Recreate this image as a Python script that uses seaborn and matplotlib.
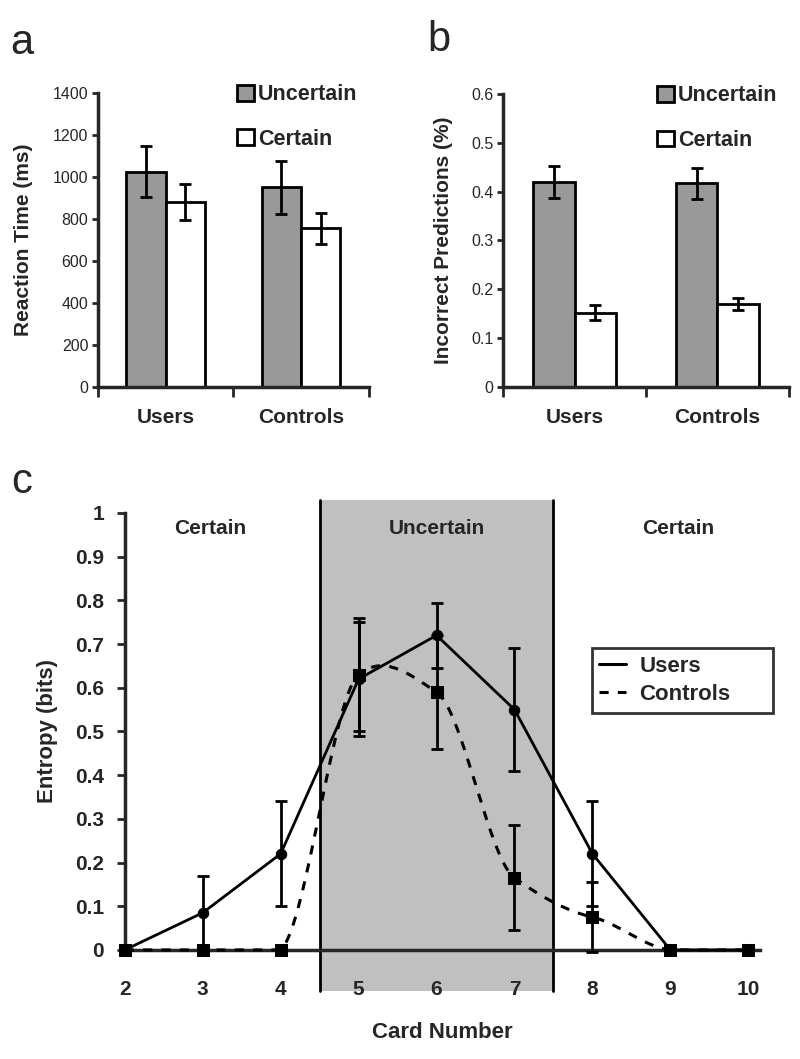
import numpy as np
import pandas as pd
import matplotlib
matplotlib.use("Agg")
import matplotlib.pyplot as plt
from matplotlib.lines import Line2D
import seaborn as sns

# Panel a / b data
groups = ["Users", "Controls"]
conditions = ["Uncertain", "Certain"]
rt_uncertain = [1025, 950]
rt_certain = [880, 755]
rt_uncertain_err = [122, 125]
rt_certain_err = [85, 75]
inc_uncertain = [0.420, 0.417]
inc_certain = [0.152, 0.170]
inc_uncertain_err = [0.032, 0.031]
inc_certain_err = [0.015, 0.012]
rt_ticks = [0, 200, 400, 600, 800, 1000, 1200, 1400]
inc_ticks = [0, 0.1, 0.2, 0.3, 0.4, 0.5, 0.6]
inc_ticklabels = ["0", "0.1", "0.2", "0.3", "0.4", "0.5", "0.6"]

# Panel c data
cards = [2, 3, 4, 5, 6, 7, 8, 9, 10]
users_entropy = [0, 0.085, 0.22, 0.62, 0.72, 0.55, 0.22, 0, 0]
users_err = [0, 0.085, 0.12, 0.13, 0.075, 0.14, 0.12, 0, 0]
controls_entropy = [0, 0, 0, 0.63, 0.59, 0.165, 0.075, 0, 0]
controls_err = [0, 0, 0, 0.13, 0.13, 0.12, 0.08, 0, 0]
entropy_ticks = [0, 0.1, 0.2, 0.3, 0.4, 0.5, 0.6, 0.7, 0.8, 0.9, 1]
entropy_ticklabels = ["0", "0.1", "0.2", "0.3", "0.4", "0.5", "0.6", "0.7", "0.8", "0.9", "1"]
uncertain_span = (4.5, 7.5)
region_labels = ["Certain", "Uncertain", "Certain"]

GRAY = "#999999"
SHADE = "#c0c0c0"

sns.set_style("ticks")
plt.rcParams["font.family"] = ["Liberation Sans", "DejaVu Sans"]
NARROW = ["Liberation Sans Narrow", "Liberation Sans", "DejaVu Sans"]


def smooth_curve(x, y, n=40, tension=0.25):
    # cardinal spline, similar to the spreadsheet "smoothed line" option
    x = np.asarray(x, float)
    y = np.asarray(y, float)
    m = np.zeros_like(y)
    m[1:-1] = (y[2:] - y[:-2]) / (x[2:] - x[:-2])
    m *= tension * 2
    xs, ys = [], []
    for i in range(len(x) - 1):
        h = x[i + 1] - x[i]
        t = np.linspace(0, 1, n)
        h00 = 2 * t**3 - 3 * t**2 + 1
        h10 = t**3 - 2 * t**2 + t
        h01 = -2 * t**3 + 3 * t**2
        h11 = t**3 - t**2
        xs.append(x[i] + t * h)
        ys.append(h00 * y[i] + h10 * h * m[i] + h01 * y[i + 1] + h11 * h * m[i + 1])
    return np.concatenate(xs), np.clip(np.concatenate(ys), 0, None)


def bar_panel(ax, unc, cer, unc_err, cer_err, ticks, ticklabels, ylabel, ymax, label_x, leg_x):
    df = pd.DataFrame({
        "group": groups * 2,
        "cond": [conditions[0]] * 2 + [conditions[1]] * 2,
        "value": list(unc) + list(cer),
    })
    errs = [list(unc_err), list(cer_err)]
    sns.barplot(data=df, x="group", y="value", hue="cond", hue_order=conditions,
                palette=[GRAY, "white"], saturation=1, width=0.58, errorbar=None,
                edgecolor="black", linewidth=2, ax=ax)
    for cont, err in zip(ax.containers, errs):
        for bar, e in zip(cont, err):
            ax.errorbar(bar.get_x() + bar.get_width() / 2, bar.get_height(), yerr=e,
                        fmt="none", ecolor="black", elinewidth=2, capsize=4, capthick=2)
    ax.set_xlim(-0.5, 1.5)
    ax.set_ylim(0, ymax)
    ax.set_yticks(ticks)
    ax.set_yticklabels(ticklabels, fontsize=11.5)
    # category ticks at the group boundaries
    ax.set_xticks([-0.5, 0.5, 1.5])
    ax.set_xticklabels([])
    ax.set_xticks([0, 1], minor=True)
    ax.set_xticklabels(groups, minor=True, fontsize=15, fontweight="bold")
    ax.tick_params(axis="x", which="major", length=7, width=2, direction="out")
    ax.tick_params(axis="x", which="minor", length=0, pad=15)
    ax.tick_params(axis="y", length=4, width=2, pad=3)
    ax.set_xlabel("")
    ax.set_ylabel(ylabel, fontsize=15, fontweight="bold")
    ax.yaxis.set_label_coords(label_x, 0.5)
    for s in ["left", "bottom"]:
        ax.spines[s].set_linewidth(2.5)
    sns.despine(ax=ax)
    handles, labels = ax.get_legend_handles_labels()
    for h in handles:
        h.set_edgecolor("black")
        h.set_linewidth(2)
    ax.legend(handles, labels, loc="upper left", bbox_to_anchor=(leg_x, 1.03),
              frameon=False, prop={"weight": "bold", "size": 15.5},
              handlelength=0.75, handleheight=0.75, handletextpad=0.2,
              labelspacing=1.1, borderpad=0, borderaxespad=0)


fig = plt.figure(figsize=(8, 10.59), dpi=100)

ax_a = fig.add_axes([0.1225, 0.6346, 0.3385, 0.2776])
bar_panel(ax_a, rt_uncertain, rt_certain, rt_uncertain_err, rt_certain_err,
          rt_ticks, [str(t) for t in rt_ticks], "Reaction Time (ms)", 1400, -0.24, 0.515)

ax_b = fig.add_axes([0.629, 0.6346, 0.357, 0.2766])
bar_panel(ax_b, inc_uncertain, inc_certain, inc_uncertain_err, inc_certain_err,
          inc_ticks, inc_ticklabels, "Incorrect Predictions (%)", 0.6, -0.175, 0.54)

# Panel c
ax_c = fig.add_axes([0.156, 0.103, 0.794, 0.4126])
ax_c.axvspan(*uncertain_span, ymin=-0.094, ymax=1.03, facecolor=SHADE, edgecolor="none",
             clip_on=False, zorder=0)
for xv in uncertain_span:
    ax_c.plot([xv, xv], [-0.094, 1.03], color="black", lw=2, clip_on=False, zorder=1)

sx, sy = smooth_curve(cards, controls_entropy)
ax_c.plot(sx, sy, color="black", lw=2.2, ls=(0, (3, 3)), zorder=3, clip_on=False)
sns.lineplot(x=cards, y=users_entropy, color="black", lw=2, ax=ax_c, zorder=4,
             marker="o", markersize=7.5, markeredgecolor="black", clip_on=False)
ax_c.errorbar(cards, users_entropy, yerr=users_err, fmt="none", ecolor="black",
              elinewidth=2, capsize=4, capthick=2, zorder=4, clip_on=False)
sns.scatterplot(x=cards, y=controls_entropy, marker="s", s=85, color="black",
                edgecolor="black", ax=ax_c, zorder=5, clip_on=False, legend=False)
ax_c.errorbar(cards, controls_entropy, yerr=controls_err, fmt="none", ecolor="black",
              elinewidth=2, capsize=4, capthick=2, zorder=5, clip_on=False)

for xt, txt in zip([3.1, 6.0, 9.1], region_labels):
    ax_c.text(xt, 0.965, txt, ha="center", va="center", fontsize=15,
              fontweight="bold", family=NARROW)

ax_c.set_xlim(2, 10.15)
ax_c.set_ylim(0, 1)
ax_c.set_xticks(cards)
ax_c.set_xticklabels([str(c) for c in cards], fontsize=15, fontweight="bold", family=NARROW)
ax_c.set_yticks(entropy_ticks)
ax_c.set_yticklabels(entropy_ticklabels, fontsize=15, fontweight="bold", family=NARROW)
ax_c.tick_params(axis="x", length=0, pad=22)
ax_c.tick_params(axis="y", length=6, width=2, pad=9)
for s in ["left", "bottom"]:
    ax_c.spines[s].set_linewidth(2.5)
sns.despine(ax=ax_c)
ax_c.set_xlabel("Card Number", fontsize=16, fontweight="bold", family=NARROW)
ax_c.xaxis.set_label_coords(0.5, -0.165)
ax_c.set_ylabel("Entropy (bits)", fontsize=16, fontweight="bold", family=NARROW)
ax_c.yaxis.set_label_coords(-0.105, 0.5)

leg_handles = [Line2D([], [], color="black", lw=2.2),
               Line2D([], [], color="black", lw=2.2, ls=(0, (3, 3)))]
leg = ax_c.legend(leg_handles, ["Users", "Controls"], loc="upper left",
                  bbox_to_anchor=(0.735, 0.5, 0.285, 0.19), mode="expand",
                  frameon=True, fancybox=False,
                  prop={"family": NARROW, "weight": "bold", "size": 16},
                  handlelength=1.2, handletextpad=0.6, labelspacing=0.3,
                  borderpad=0.35, borderaxespad=0, facecolor="white")
leg.get_frame().set_edgecolor("black")
leg.get_frame().set_linewidth(2)

# panel letters
fig.text(22 / 800, 1 - 43 / 1059, "a", fontsize=30, ha="center", va="center")
fig.text(439 / 800, 1 - 40 / 1059, "b", fontsize=30, ha="center", va="center")
fig.text(22 / 800, 1 - 482 / 1059, "c", fontsize=30, ha="center", va="center")

fig.savefig("out.png", dpi=100)
